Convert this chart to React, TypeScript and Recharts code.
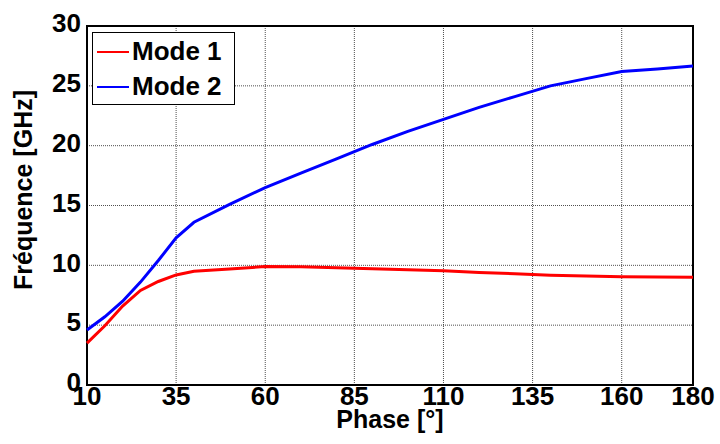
import { LineChart, Line, XAxis, YAxis, CartesianGrid, ReferenceArea } from "recharts";

const phase = [10, 15, 20, 25, 30, 35, 40, 50, 60, 70, 80, 90, 100, 110, 120, 130, 140, 150, 160, 170, 180];
const mode1 = [3.5, 4.95, 6.6, 7.9, 8.65, 9.2, 9.5, 9.7, 9.9, 9.88, 9.8, 9.72, 9.63, 9.55, 9.4, 9.3, 9.18, 9.1, 9.05, 9.02, 9.0];
const mode2 = [4.6, 5.7, 7.0, 8.6, 10.4, 12.3, 13.6, 15.1, 16.5, 17.7, 18.9, 20.1, 21.2, 22.2, 23.2, 24.1, 25.0, 25.6, 26.2, 26.4, 26.65];

const xTicks = [10, 35, 60, 85, 110, 135, 160, 180];
const yTicks = [0, 5, 10, 15, 20, 25, 30];

const series = [
  { key: "mode1", name: "Mode 1", color: "#ff0000" },
  { key: "mode2", name: "Mode 2", color: "#0000ff" },
];

const data = phase.map((p, i) => ({ phase: p, mode1: mode1[i], mode2: mode2[i] }));

const FONT = '"Liberation Sans", Arial, sans-serif';

function YLabel() {
  // rotated axis title, placed a bit above the plot centre like the original
  return (
    <text
      x={32}
      y={190}
      transform="rotate(-90 32 190)"
      textAnchor="middle"
      fill="#000"
      fontSize={25}
      fontWeight={700}
      fontFamily={FONT}
    >
      Fréquence [GHz]
    </text>
  );
}

function LegendBox() {
  return (
    <div
      style={{
        position: "absolute",
        left: 92,
        top: 32,
        background: "#fff",
        border: "1px solid #000",
        width: 143,
        height: 73,
        boxSizing: "border-box",
        paddingTop: 1,
        fontFamily: FONT,
        fontWeight: 700,
        fontSize: 26,
      }}
    >
      {series.map((s) => (
        <div key={s.key} style={{ display: "flex", alignItems: "center", height: 35 }}>
          <svg width={39} height={10}>
            <line x1={4} x2={36} y1={5} y2={5} stroke={s.color} strokeWidth={2} />
          </svg>
          <span style={{ lineHeight: "35px" }}>{s.name}</span>
        </div>
      ))}
    </div>
  );
}

export default function App() {
  return (
    <div style={{ position: "absolute", left: 0, top: 0, width: 720, height: 444, background: "#fff" }}>
      <LineChart
        width={720}
        height={444}
        data={data}
        margin={{ top: 26, right: 27, left: 0, bottom: 0 }}
        style={{ fontFamily: FONT }}
      >
        <CartesianGrid stroke="#222" strokeWidth={0.8} strokeDasharray="1 1" />
        <XAxis
          dataKey="phase"
          type="number"
          domain={[10, 180]}
          ticks={xTicks}
          interval={0}
          height={59}
          tickLine={false}
          tickSize={0}
          tickMargin={2}
          axisLine={false}
          tick={{ fill: "#000", fontSize: 26, fontWeight: 700 }}
          label={{
            value: "Phase [°]",
            position: "insideBottom",
            offset: 16,
            fill: "#000",
            fontSize: 25,
            fontWeight: 700,
          }}
        />
        <YAxis
          type="number"
          domain={[0, 30]}
          ticks={yTicks}
          interval={0}
          width={87}
          tickLine={false}
          tickSize={0}
          tickMargin={6}
          axisLine={false}
          tick={{ fill: "#000", fontSize: 26, fontWeight: 700, dy: -3 }}
          label={<YLabel />}
        />
        <ReferenceArea x1={10} x2={180} y1={0} y2={30} fill="none" stroke="#000" strokeWidth={2} />
        {series.map((s) => (
          <Line
            key={s.key}
            type="linear"
            dataKey={s.key}
            name={s.name}
            stroke={s.color}
            strokeWidth={3}
            dot={false}
            isAnimationActive={false}
          />
        ))}
      </LineChart>
      <LegendBox />
    </div>
  );
}
